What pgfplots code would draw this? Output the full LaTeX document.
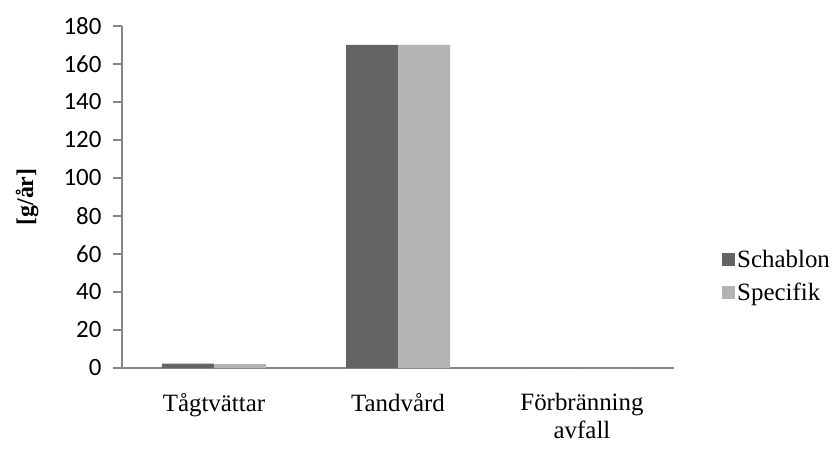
\documentclass[border=0pt]{standalone}
\usepackage{fontspec}
\setmainfont{Liberation Serif}
\newfontfamily\calib{Carlito}
\usepackage{pgfplots}
\pgfplotsset{compat=1.18}
\definecolor{darkbar}{HTML}{646464}
\definecolor{lightbar}{HTML}{B3B3B3}
\definecolor{axgray}{HTML}{868686}
\begin{document}
\begin{tikzpicture}
\begin{axis}[
  name=a,
  scale only axis,
  width=552bp, height=342bp,
  ybar=0pt, bar width=52bp,
  xmin=-0.5, xmax=2.5,
  ymin=0, ymax=180,
  ytick={0,20,...,180},
  xtick={0,1,2},
  xticklabels={Tågtvättar, Tandvård, Förbränning\\avfall},
  axis x line*=bottom, axis y line*=left,
  axis line style={draw=axgray, line width=1.3bp},
  tick align=outside,
  major tick length=9bp,
  ytick style={draw=axgray, line width=1.3bp},
  xtick style={draw=none},
  /pgf/number format/assume math mode=true,
  yticklabel style={font=\calib\fontsize{25}{25}\selectfont, xshift=-8bp},
  xticklabel style={font=\fontsize{25}{28}\selectfont, align=center, yshift=-13bp},
  ylabel={\textbf{[g/år]}},
  ylabel style={font=\fontsize{24}{28}\selectfont, at={(axis description cs:-0.172,0.5)}, anchor=center},
  legend style={draw=none, at={(1.087,0.269)}, anchor=west, font=\fontsize{25}{28}\selectfont, row sep=10bp, inner sep=0pt},
  legend cell align=left,
  legend image code/.code={\fill[#1] (0bp,-7bp) rectangle (13bp,6bp);},
  clip=false,
]
\addplot[fill=darkbar, draw=none] coordinates {(0,2.3) (1,170) (2,0)};
\addplot[fill=lightbar, draw=none] coordinates {(0,2.0) (1,170) (2,0)};
\legend{Schablon, Specifik}
\end{axis}
\path (a.south west) ++(-122bp,-81bp);
\path (a.north east) ++(163bp,26bp);
\end{tikzpicture}
\end{document}
